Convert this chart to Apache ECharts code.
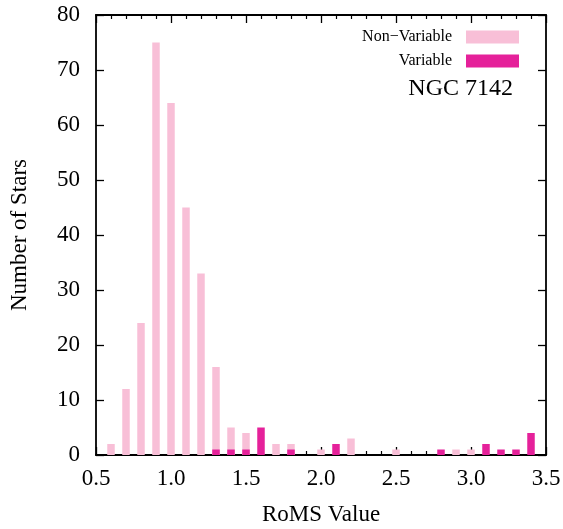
<!DOCTYPE html>
<html><head><meta charset="utf-8">
<script src="https://cdn.jsdelivr.net/npm/echarts@6/dist/echarts.min.js"></script>
<style>html,body{margin:0;padding:0;background:#fff}#c{width:563px;height:529px}</style>
</head><body><div id="c"></div>
<script>
const binCenters = [0.6,0.7,0.8,0.9,1.0,1.1,1.2,1.3,1.4,1.5,1.6,1.7,1.8,1.9,2.0,2.1,2.2,2.3,2.4,2.5,2.6,2.7,2.8,2.9,3.0,3.1,3.2,3.3,3.4];
const nonVariable = [2,12,24,75,64,45,33,16,5,4,0,2,2,0,1,0,3,0,0,1,0,0,0,1,1,0,0,0,0];
const variable    = [0,0,0,0,0,0,0,1,1,1,5,0,1,0,0,2,0,0,0,0,0,0,1,0,0,2,1,1,4];
const seriesNames = ['Non\u2212Variable','Variable'];
const clusterName = 'NGC 7142';
const xTitle = 'RoMS Value', yTitle = 'Number of Stars';

const font = 'Liberation Serif';
const pink = '#f8bfd7', magenta = '#e5219a';
const toPairs = arr => binCenters.map((x,i)=>[x, arr[i]]).filter(p=>p[1]>0);

const axisCommon = {
  axisLine:{show:true,onZero:false,lineStyle:{color:'#000',width:1.8}},
  axisTick:{show:true,inside:true,length:8,lineStyle:{color:'#000',width:1.3}},
  splitLine:{show:false}
};
const legendCommon = {orient:'vertical',align:'right',itemWidth:53,itemHeight:13,icon:'rect',padding:0,
  textStyle:{fontFamily:font,fontSize:16,color:'#000',padding:[0,9,0,0]}};
const chart = echarts.init(document.getElementById('c'));
chart.setOption({
  animation:false,
  backgroundColor:'#fff',
  title:{text:clusterName,right:50,top:77,padding:0,textStyle:{fontFamily:font,fontWeight:'normal',fontSize:24,color:'#000'}},
  legend:[
    Object.assign({data:[seriesNames[0]],right:44,top:29},legendCommon),
    Object.assign({data:[seriesNames[1]],right:44,top:53},legendCommon)
  ],
  grid:{left:96,right:17,top:15,bottom:74,containLabel:false,outerBoundsMode:'none'},
  xAxis:[
    Object.assign({type:'value',min:0.5,max:3.5,interval:0.5,position:'bottom',
      name:xTitle,nameLocation:'middle',nameGap:48,nameTextStyle:{fontFamily:font,fontSize:23,color:'#000'},
      axisLabel:{fontFamily:font,fontSize:23,color:'#000',margin:12,formatter:v=>v.toFixed(1)},
      minorTick:{show:true,splitNumber:5,length:4,lineStyle:{color:'#000',width:1.2}}},axisCommon),
    Object.assign({type:'value',min:0.5,max:3.5,interval:0.5,position:'top',axisLabel:{show:false},
      minorTick:{show:true,splitNumber:5,length:4,lineStyle:{color:'#000',width:1.2}}},axisCommon)
  ],
  yAxis:[
    Object.assign({type:'value',min:0,max:80,interval:10,position:'left',
      name:yTitle,nameLocation:'middle',nameGap:65,nameTextStyle:{fontFamily:font,fontSize:23,color:'#000'},
      axisLabel:{fontFamily:font,fontSize:23,color:'#000',margin:16}},axisCommon),
    Object.assign({type:'value',min:0,max:80,interval:10,position:'right',axisLabel:{show:false}},axisCommon)
  ],
  series:[
    {name:seriesNames[0],type:'bar',xAxisIndex:0,yAxisIndex:0,data:toPairs(nonVariable),barWidth:7.5,barGap:'-100%',itemStyle:{color:pink}},
    {name:seriesNames[1],type:'bar',xAxisIndex:0,yAxisIndex:0,data:toPairs(variable),barWidth:7.5,barGap:'-100%',itemStyle:{color:magenta}}
  ]
});
</script></body></html>
